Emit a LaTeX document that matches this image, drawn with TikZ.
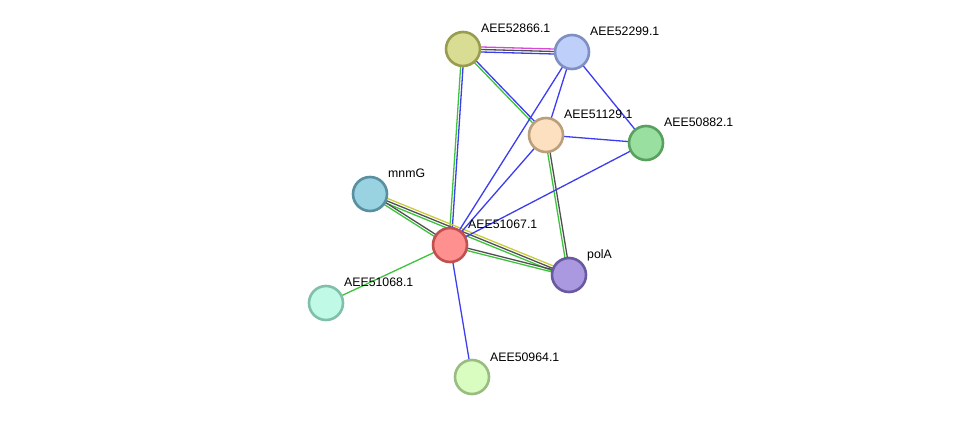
\documentclass[tikz,border=0pt]{standalone}
\usepackage{fontspec}
\setmainfont{Liberation Sans}
\usetikzlibrary{calc,backgrounds}
\definecolor{eblue}{HTML}{3C3CF0}
\definecolor{egreen}{HTML}{3CC43C}
\definecolor{egray}{HTML}{505050}
\definecolor{eyellow}{HTML}{C8CC3C}
\definecolor{emag}{HTML}{D848D8}
\tikzset{
  prot/.style={circle, minimum size=34pt, inner sep=0pt, line width=2.6pt},
  plabel/.style={anchor=base west, font=\fontsize{12.3}{14}\selectfont, inner sep=0pt},
  edge/.style={line width=1.3pt},
}
\newcommand\stredge[4]{\draw[edge,#1] ($(#2)!#4!90:(#3)$) -- ($(#3)!#4!-90:(#2)$);}
\begin{document}
\begin{tikzpicture}[x=1pt,y=1pt]
\useasboundingbox (0,0) rectangle (976,423);
\node[prot, fill={rgb,255:red,217;green,221;blue,147}, draw={rgb,255:red,152;green,156;blue,80}] (a) at (463,374) {};
\node[prot, fill={rgb,255:red,190;green,207;blue,250}, draw={rgb,255:red,127;green,143;blue,194}] (b) at (572,371) {};
\node[prot, fill={rgb,255:red,253;green,224;blue,192}, draw={rgb,255:red,186;green,159;blue,124}] (c) at (546,288) {};
\node[prot, fill={rgb,255:red,153;green,224;blue,160}, draw={rgb,255:red,88;green,160;blue,94}] (d) at (646,280) {};
\node[prot, fill={rgb,255:red,153;green,210;blue,224}, draw={rgb,255:red,88;green,144;blue,160}] (m) at (370,229) {};
\node[prot, fill={rgb,255:red,255;green,144;blue,144}, draw={rgb,255:red,192;green,80;blue,80}] (e) at (450,178) {};
\node[prot, fill={rgb,255:red,170;green,153;blue,224}, draw={rgb,255:red,106;green,88;blue,160}] (p) at (569,148) {};
\node[prot, fill={rgb,255:red,192;green,250;blue,230}, draw={rgb,255:red,128;green,192;blue,170}] (f) at (326,120) {};
\node[prot, fill={rgb,255:red,217;green,253;blue,192}, draw={rgb,255:red,153;green,189;blue,128}] (g) at (472,46) {};
\begin{scope}[on background layer]
\fill[white] (0,0) rectangle (976,423);
\stredge{emag}{a}{b}{2.5pt}
\stredge{egray}{a}{b}{0pt}
\stredge{eblue}{a}{b}{-2.5pt}
\stredge{eblue}{a}{e}{1.2pt}
\stredge{egreen}{a}{e}{-1.2pt}
\stredge{eblue}{a}{c}{1.2pt}
\stredge{egreen}{a}{c}{-1.2pt}
\stredge{egray}{c}{p}{1.2pt}
\stredge{egreen}{c}{p}{-1.2pt}
\stredge{eyellow}{m}{p}{2.5pt}
\stredge{egray}{m}{p}{0pt}
\stredge{egreen}{m}{p}{-2.5pt}
\stredge{egray}{m}{e}{1.2pt}
\stredge{egreen}{m}{e}{-1.2pt}
\stredge{egray}{e}{p}{1.2pt}
\stredge{egreen}{e}{p}{-1.2pt}
\stredge{eblue}{b}{e}{0pt}
\stredge{eblue}{b}{c}{0pt}
\stredge{eblue}{b}{d}{0pt}
\stredge{eblue}{c}{d}{0pt}
\stredge{eblue}{c}{e}{0pt}
\stredge{eblue}{d}{e}{0pt}
\stredge{eblue}{e}{g}{0pt}
\stredge{egreen}{e}{f}{0pt}
\end{scope}
\node[plabel] (la) at ($(a)+(18,16)$) {AEE52866.1};
\node[plabel] (lb) at ($(b)+(18,16)$) {AEE52299.1};
\node[plabel] (lc) at ($(c)+(18,16)$) {AEE51129.1};
\node[plabel] (ld) at ($(d)+(18,16)$) {AEE50882.1};
\node[plabel] (lm) at ($(m)+(18,16)$) {mnmG};
\node[plabel] (le) at ($(e)+(18,16)$) {AEE51067.1};
\node[plabel] (lp) at ($(p)+(18,16)$) {polA};
\node[plabel] (lf) at ($(f)+(18,16)$) {AEE51068.1};
\node[plabel] (lg) at ($(g)+(18,16)$) {AEE50964.1};
\end{tikzpicture}
\end{document}
